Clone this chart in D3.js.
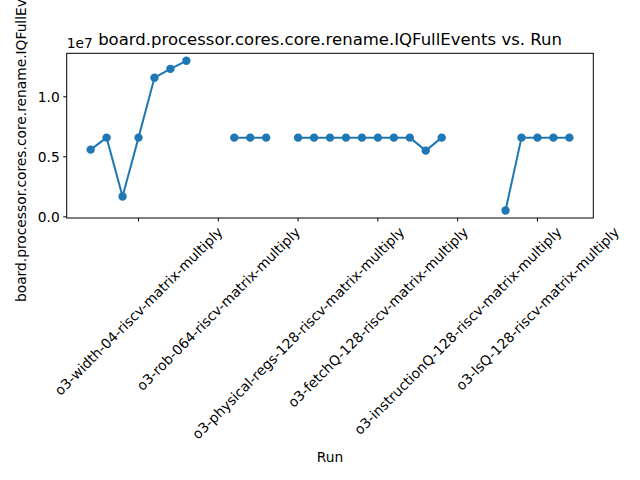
<!DOCTYPE html>
<html>
<head>
<meta charset="utf-8">
<script src="https://cdn.jsdelivr.net/npm/d3@7"></script>
<style>
  html, body { margin: 0; padding: 0; background: #fff; }
  svg { display: block; font-family: "DejaVu Sans", sans-serif; }
</style>
</head>
<body>
<svg id="chart" width="640" height="480"></svg>
<script>
// ---- data ----
const runs = [0,1,2,3,4,5,6,7,8,9,10,11,12,13,14,15,16,17,18,19,20,21,22,23,24,25,26,27,28,29,30];
const iqFullEvents = [
  5.60e6, 6.60e6, 1.70e6, 6.60e6, 11.59e6, 12.33e6, 13.00e6, null, null,
  6.60e6, 6.60e6, 6.60e6, null,
  6.60e6, 6.60e6, 6.60e6, 6.60e6, 6.60e6, 6.60e6, 6.60e6, 6.60e6, 5.52e6, 6.60e6,
  null, null, null,
  0.53e6, 6.60e6, 6.60e6, 6.60e6, 6.60e6
];
const xTickPositions = [3, 8, 13, 18, 23, 28];
const xTickLabels = [
  "o3-width-04-riscv-matrix-multiply",
  "o3-rob-064-riscv-matrix-multiply",
  "o3-physical-regs-128-riscv-matrix-multiply",
  "o3-fetchQ-128-riscv-matrix-multiply",
  "o3-instructionQ-128-riscv-matrix-multiply",
  "o3-lsQ-128-riscv-matrix-multiply"
];
const yTicks = [0, 0.5e7, 1.0e7];
const yTickLabels = ["0.0", "0.5", "1.0"];
const titleText = "board.processor.cores.core.rename.IQFullEvents vs. Run";
const yLabelText = "board.processor.cores.core.rename.IQFullEvents";
const xLabelText = "Run";

// ---- layout ----
const L = 66.7, R = 593.3, T = 53.3, B = 218;
const color = "#1f77b4";
const fs = 13.8;
const svg = d3.select("#chart");

const xMin = d3.min(runs), xMax = d3.max(runs);
const xPad = (xMax - xMin) * 0.05;
const x = d3.scaleLinear().domain([xMin - xPad, xMax + xPad]).range([L, R]);

const vals = iqFullEvents.filter(v => v != null);
const yMin = d3.min(vals), yMax = d3.max(vals);
const yPad = (yMax - yMin) * 0.05;
const y = d3.scaleLinear().domain([yMin - yPad, yMax + yPad]).range([B, T]);

const pts = runs.map((r, i) => ({ r, v: iqFullEvents[i] }));

// line
const line = d3.line().defined(d => d.v != null).x(d => x(d.r)).y(d => y(d.v));
svg.append("path").datum(pts)
  .attr("d", line).attr("fill", "none").attr("stroke", color).attr("stroke-width", 2)
  .attr("stroke-linejoin", "round");

// markers
svg.append("g").selectAll("circle").data(pts.filter(d => d.v != null)).join("circle")
  .attr("cx", d => x(d.r)).attr("cy", d => y(d.v)).attr("r", 4.2).attr("fill", color);

// frame
svg.append("rect").attr("x", L).attr("y", T).attr("width", R - L).attr("height", B - T)
  .attr("fill", "none").attr("stroke", "#000").attr("stroke-width", 1);

// y axis ticks
const yAxis = svg.append("g");
yTicks.forEach((t, i) => {
  const yy = y(t);
  yAxis.append("line").attr("x1", L - 3.5).attr("x2", L).attr("y1", yy).attr("y2", yy)
    .attr("stroke", "#000").attr("stroke-width", 1);
  yAxis.append("text").attr("x", L - 7).attr("y", yy).attr("dy", "0.35em")
    .attr("text-anchor", "end").attr("font-size", fs).attr("fill", "#000")
    .text(yTickLabels[i]);
});
// offset text
svg.append("text").attr("x", L).attr("y", 48).attr("font-size", fs).attr("fill", "#000").text("1e7");

// x axis ticks
const xAxis = svg.append("g");
xTickPositions.forEach((p, i) => {
  const xx = x(p);
  xAxis.append("line").attr("x1", xx).attr("x2", xx).attr("y1", B).attr("y2", B + 3.5)
    .attr("stroke", "#000").attr("stroke-width", 1);
  const t = xAxis.append("text").attr("font-size", fs).attr("fill", "#000")
    .attr("text-anchor", "middle").attr("dominant-baseline", "central")
    .text(xTickLabels[i]);
  const w = t.node().getComputedTextLength();
  const h = 15.5;
  const half = (w + h) / (2 * Math.SQRT2);
  t.attr("transform", `translate(${xx},${B + 6 + half}) rotate(-45)`);
});

// x label
svg.append("text").attr("x", (L + R) / 2).attr("y", 462).attr("text-anchor", "middle")
  .attr("font-size", fs).attr("fill", "#000").text(xLabelText);

// y label
svg.append("text").attr("transform", `translate(26,${(T + B) / 2}) rotate(-90)`)
  .attr("text-anchor", "middle").attr("font-size", fs).attr("fill", "#000").text(yLabelText);

// title
svg.append("text").attr("x", (L + R) / 2).attr("y", 45).attr("text-anchor", "middle")
  .attr("font-size", 16.5).attr("fill", "#000").text(titleText);
</script>
</body>
</html>
